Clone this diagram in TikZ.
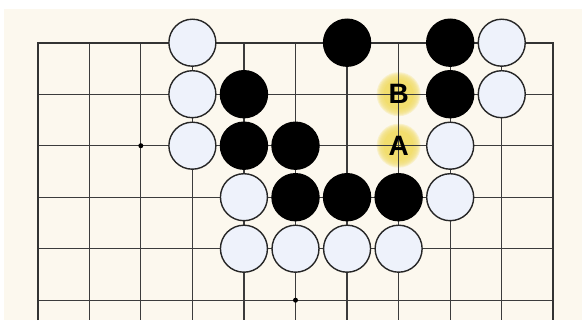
\documentclass[tikz,border=0pt]{standalone}
\usepackage{fontspec}
\setmainfont{Liberation Sans}
\usetikzlibrary{positioning}

\definecolor{boardbg}{RGB}{252,248,238}
\definecolor{whitefill}{RGB}{238,242,251}
\definecolor{gridc}{RGB}{60,60,60}
\definecolor{glowc}{RGB}{242,222,110}

\begin{document}
\begin{tikzpicture}[
    x=51.56pt, y=-51.5pt,
    gridln/.style={draw=gridc, line width=1.2pt},
    edgeln/.style={draw=black!80, line width=2.2pt},
    wstone/.style={circle, draw=black!85, line width=1.4pt, fill=whitefill, minimum size=47pt, inner sep=0pt},
    bstone/.style={circle, draw=black, line width=1.4pt, fill=black, minimum size=47pt, inner sep=0pt},
    hoshi/.style={circle, fill=black, minimum size=5pt, inner sep=0pt},
    letterlbl/.style={font=\fontsize{28}{28}\selectfont\bfseries, inner sep=0pt}
]
  \useasboundingbox (-0.7312,-0.8291) rectangle (10.5566,5.3845);
  \fill[white] (-0.7312,-0.8291) rectangle (10.5566,5.3845);
  \fill[boardbg] (-0.6536,-0.6544) rectangle (10.5566,5.3845);

  % glow behind the labels
  \coordinate (ptB) at (7,1);
  \coordinate (ptA) at (7,2);
  \foreach \p in {ptA,ptB} {
    \fill[glowc] (\p) circle (15pt);
    \foreach \r in {16,17,...,22}
      \fill[glowc, opacity=0.28] (\p) circle (\r pt);
  }

  % board
  \foreach \i in {1,...,9}
    \draw[gridln] (\i,0) -- (\i,5.3845);
  \foreach \j in {1,...,5}
    \draw[gridln] (0,\j) -- (10,\j);
  \draw[edgeln] (0,5.3845) -- (0,0) -- (10,0) -- (10,5.3845);
  \node[hoshi] (hs1) at (2,2) {};
  \node[hoshi] (hs2) at (5,5) {};

  % row 0
  \node[wstone] (w30) at (3,0) {};
  \node[bstone] (b60) at (6,0) {};
  \node[bstone] (b80) at (8,0) {};
  \node[wstone] (w90) at (9,0) {};
  % row 1
  \node[wstone] (w31) at (3,1) {};
  \node[bstone] (b41) at (4,1) {};
  \node[bstone] (b81) at (8,1) {};
  \node[wstone] (w91) at (9,1) {};
  % row 2
  \node[wstone] (w32) at (3,2) {};
  \node[bstone] (b42) at (4,2) {};
  \node[bstone] (b52) at (5,2) {};
  \node[wstone] (w82) at (8,2) {};
  % row 3
  \node[wstone] (w43) at (4,3) {};
  \node[bstone] (b53) at (5,3) {};
  \node[bstone] (b63) at (6,3) {};
  \node[bstone] (b73) at (7,3) {};
  \node[wstone] (w83) at (8,3) {};
  % row 4
  \node[wstone] (w44) at (4,4) {};
  \node[wstone] (w54) at (5,4) {};
  \node[wstone] (w64) at (6,4) {};
  \node[wstone] (w74) at (7,4) {};

  \node[letterlbl] (B) at (ptB) {B};
  \node[letterlbl] (A) at (ptA) {A};
\end{tikzpicture}
\end{document}
